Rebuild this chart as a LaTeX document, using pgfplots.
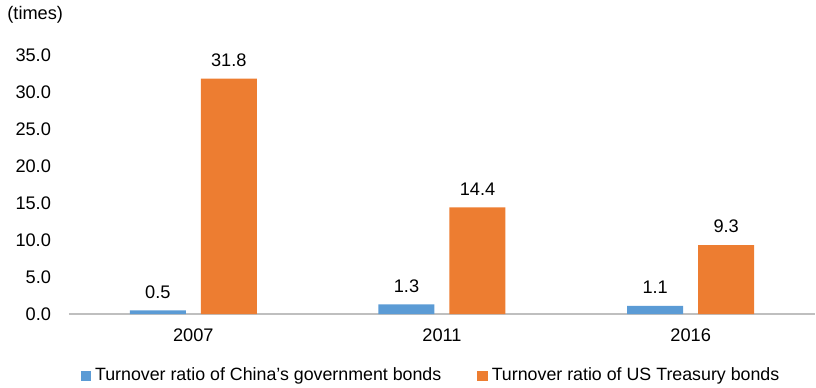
\documentclass[border=0pt]{standalone}
\usepackage{pgfplots}
\pgfplotsset{compat=1.18}
\usepackage{fontspec}
\setmainfont{Liberation Sans}
\definecolor{cblue}{HTML}{5B9BD5}
\definecolor{corange}{HTML}{ED7D31}
\definecolor{axgray}{HTML}{BFBFBF}
\newcommand{\lblfont}{\fontsize{9.1}{11}\selectfont}
\newcommand{\legfont}{\fontsize{8.9}{11}\selectfont}
\begin{document}
\begin{tikzpicture}
\path[use as bounding box] (-34.5pt,-36.5pt) rectangle (373.5pt,157pt);
\begin{axis}[
  at={(0pt,0pt)}, anchor=south west,
  scale only axis, width=373pt, height=129.5pt,
  xmin=-0.5, xmax=2.5, ymin=0, ymax=35,
  axis x line*=bottom, axis y line*=left,
  x axis line style={-, draw=axgray, line width=0.6pt},
  y axis line style={draw=none},
  major tick length=0pt,
  xtick={0,1,2}, xticklabels={2007,2011,2016},
  ytick={0,5,10,15,20,25,30,35},
  yticklabels={0.0,5.0,10.0,15.0,20.0,25.0,30.0,35.0},
  tick label style={font=\lblfont},
  yticklabel style={anchor=east, xshift=-5.5pt},
  xticklabel style={yshift=-4pt},
  ybar=7.5pt, bar width=28pt,
  nodes near coords,
  nodes near coords style={font=\lblfont, /pgf/number format/fixed, /pgf/number format/fixed zerofill, /pgf/number format/precision=1, /pgf/number format/assume math mode=true, yshift=2.5pt},
  legend style={at={(0.4866,-0.239)}, anchor=center, draw=none, font=\legfont, legend columns=2,
    /tikz/every even column/.append style={column sep=16pt}},
  legend image code/.code={\fill[#1] (0pt,-2.6pt) rectangle (5.2pt,2.6pt);},
]
\addplot[fill=cblue, draw=none] coordinates {(0,0.5) (1,1.3) (2,1.1)};
\addplot[fill=corange, draw=none] coordinates {(0,31.8) (1,14.4) (2,9.3)};
\legend{Turnover ratio of China’s government bonds, Turnover ratio of US Treasury bonds}
\end{axis}
\node[anchor=west, font=\lblfont, inner sep=0pt] at (-31pt,149.5pt) {(times)};
\end{tikzpicture}
\end{document}
